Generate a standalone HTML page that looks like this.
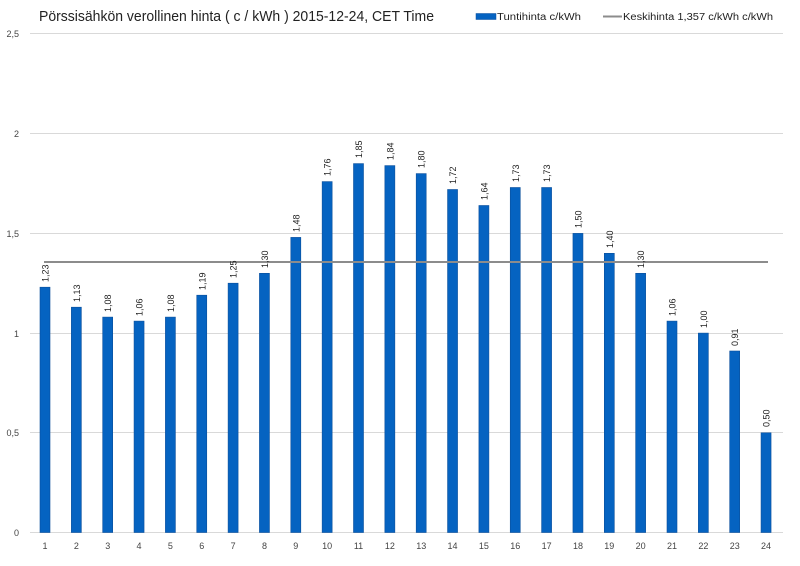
<!DOCTYPE html>
<html><head><meta charset="utf-8"><style>body{margin:0;background:#fff}svg{display:block}</style></head><body>
<svg width="800" height="566" xmlns="http://www.w3.org/2000/svg" font-family="Liberation Sans, sans-serif">
<rect width="800" height="566" fill="#fff"/>
<text x="39" y="21" font-size="15" fill="#222" textLength="395" lengthAdjust="spacingAndGlyphs">Pörssisähkön verollinen hinta ( c / kWh ) 2015-12-24, CET Time</text>
<rect x="476" y="13.5" width="20" height="6" fill="#0563c1" stroke="#0a4f9c" stroke-width="0.5"/>
<text x="497" y="20" font-size="10" fill="#222" textLength="84" lengthAdjust="spacingAndGlyphs">Tuntihinta c/kWh</text>
<line x1="603" y1="16.5" x2="622" y2="16.5" stroke="#8c8c8c" stroke-width="2"/>
<text x="623" y="20" font-size="10" fill="#222" textLength="150" lengthAdjust="spacingAndGlyphs">Keskihinta 1,357 c/kWh c/kWh</text>
<g stroke="#d9d9d9" stroke-width="1">
<line x1="30" y1="33.5" x2="783" y2="33.5"/><line x1="30" y1="133.5" x2="783" y2="133.5"/><line x1="30" y1="233.5" x2="783" y2="233.5"/><line x1="30" y1="333.5" x2="783" y2="333.5"/><line x1="30" y1="432.5" x2="783" y2="432.5"/><line x1="30" y1="532.5" x2="783" y2="532.5"/>
</g>
<g font-size="9" fill="#444" text-anchor="end">
<text x="19" y="37">2,5</text><text x="19" y="137">2</text><text x="19" y="237">1,5</text><text x="19" y="337">1</text><text x="19" y="436">0,5</text><text x="19" y="536">0</text>
</g>
<g fill="#0563c1" stroke="#0a4f9c" stroke-width="0.6">
<rect x="40" y="287.2" width="10" height="245.3"/>
<rect x="71.35" y="307.2" width="10" height="225.3"/>
<rect x="102.7" y="317.1" width="10" height="215.4"/>
<rect x="134.05" y="321.1" width="10" height="211.4"/>
<rect x="165.4" y="317.1" width="10" height="215.4"/>
<rect x="196.75" y="295.2" width="10" height="237.3"/>
<rect x="228.1" y="283.2" width="10" height="249.3"/>
<rect x="259.45" y="273.3" width="10" height="259.2"/>
<rect x="290.8" y="237.4" width="10" height="295.1"/>
<rect x="322.15" y="181.6" width="10" height="350.9"/>
<rect x="353.5" y="163.6" width="10" height="368.9"/>
<rect x="384.85" y="165.6" width="10" height="366.9"/>
<rect x="416.2" y="173.6" width="10" height="358.9"/>
<rect x="447.55" y="189.5" width="10" height="343"/>
<rect x="478.9" y="205.5" width="10" height="327"/>
<rect x="510.25" y="187.5" width="10" height="345"/>
<rect x="541.6" y="187.5" width="10" height="345"/>
<rect x="572.95" y="233.4" width="10" height="299.1"/>
<rect x="604.3" y="253.3" width="10" height="279.2"/>
<rect x="635.65" y="273.3" width="10" height="259.2"/>
<rect x="667" y="321.1" width="10" height="211.4"/>
<rect x="698.35" y="333.1" width="10" height="199.4"/>
<rect x="729.7" y="351" width="10" height="181.5"/>
<rect x="761.05" y="432.8" width="10" height="99.7"/>
</g>
<line x1="44" y1="262" x2="768" y2="262" stroke="#8c8c8c" stroke-width="2"/>
<g font-size="9" fill="#222">
<text transform="translate(48.5,282) rotate(-90)">1,23</text>
<text transform="translate(79.85,302) rotate(-90)">1,13</text>
<text transform="translate(111.2,312) rotate(-90)">1,08</text>
<text transform="translate(142.55,316) rotate(-90)">1,06</text>
<text transform="translate(173.9,312) rotate(-90)">1,08</text>
<text transform="translate(205.25,290) rotate(-90)">1,19</text>
<text transform="translate(236.6,278) rotate(-90)">1,25</text>
<text transform="translate(267.95,268) rotate(-90)">1,30</text>
<text transform="translate(299.3,232) rotate(-90)">1,48</text>
<text transform="translate(330.65,176) rotate(-90)">1,76</text>
<text transform="translate(362,158) rotate(-90)">1,85</text>
<text transform="translate(393.35,160) rotate(-90)">1,84</text>
<text transform="translate(424.7,168) rotate(-90)">1,80</text>
<text transform="translate(456.05,184) rotate(-90)">1,72</text>
<text transform="translate(487.4,200) rotate(-90)">1,64</text>
<text transform="translate(518.75,182) rotate(-90)">1,73</text>
<text transform="translate(550.1,182) rotate(-90)">1,73</text>
<text transform="translate(581.45,228) rotate(-90)">1,50</text>
<text transform="translate(612.8,248) rotate(-90)">1,40</text>
<text transform="translate(644.15,268) rotate(-90)">1,30</text>
<text transform="translate(675.5,316) rotate(-90)">1,06</text>
<text transform="translate(706.85,328) rotate(-90)">1,00</text>
<text transform="translate(738.2,346) rotate(-90)">0,91</text>
<text transform="translate(769.55,427) rotate(-90)">0,50</text>
</g>
<g font-size="9" fill="#444" text-anchor="middle">
<text x="45" y="549">1</text><text x="76.35" y="549">2</text><text x="107.7" y="549">3</text><text x="139.05" y="549">4</text><text x="170.4" y="549">5</text><text x="201.75" y="549">6</text><text x="233.1" y="549">7</text><text x="264.45" y="549">8</text><text x="295.8" y="549">9</text><text x="327.15" y="549">10</text><text x="358.5" y="549">11</text><text x="389.85" y="549">12</text><text x="421.2" y="549">13</text><text x="452.55" y="549">14</text><text x="483.9" y="549">15</text><text x="515.25" y="549">16</text><text x="546.6" y="549">17</text><text x="577.95" y="549">18</text><text x="609.3" y="549">19</text><text x="640.65" y="549">20</text><text x="672" y="549">21</text><text x="703.35" y="549">22</text><text x="734.7" y="549">23</text><text x="766.05" y="549">24</text>
</g>
</svg>
</body></html>
